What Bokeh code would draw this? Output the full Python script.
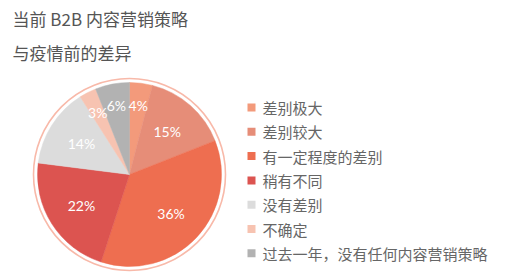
import math
from bokeh.plotting import figure
from bokeh.models import Range1d, ColumnDataSource
from bokeh.core.properties import value
from bokeh.embed import file_html
from bokeh.resources import INLINE

W, H = 512, 272

title_lines = ["当前 B2B 内容营销策略", "与疫情前的差异"]
categories = ["差别极大", "差别较大", "有一定程度的差别", "稍有不同", "没有差别", "不确定", "过去一年，没有任何内容营销策略"]
values = [4, 15, 36, 22, 14, 3, 6]
colors = ["#F39A7B", "#E68D78", "#EE6E50", "#DC5450", "#DCDCDC", "#F7C3B1", "#B2B2B2"]

CX, CY = 129, 174
R_FILL = 92
R_RING = 96

def Y(y):
    return H - y

p = figure(width=W, height=H, output_backend="svg", toolbar_location=None,
           x_range=Range1d(0, W), y_range=Range1d(0, H), min_border=0)
p.axis.visible = False
p.grid.visible = False
p.outline_line_color = None
p.background_fill_color = "white"
p.border_fill_color = "white"

total = sum(values)
starts, ends, lx, ly, labels = [], [], [], [], []
cum = 0.0
for v in values:
    a0 = math.pi / 2 - 2 * math.pi * cum / total
    a1 = math.pi / 2 - 2 * math.pi * (cum + v) / total
    starts.append(a0)
    ends.append(a1)
    mid = (a0 + a1) / 2
    r = 57 if v >= 10 else 70
    lx.append(CX + r * math.cos(mid))
    ly.append(Y(CY) + r * math.sin(mid))
    labels.append(f"{v}%")
    cum += v

src = ColumnDataSource(dict(start=starts, end=ends, color=colors, lx=lx, ly=ly, label=labels))

p.circle(x=[CX], y=[Y(CY)], radius=R_RING, fill_color=None, line_color="#F8B9A9", line_width=1.6)
p.wedge(x=CX, y=Y(CY), radius=R_FILL, start_angle="start", end_angle="end",
        direction="clock", fill_color="color", line_color="color", line_width=0.5, source=src)
p.text(x="lx", y="ly", text="label", source=src, text_color="white",
       text_font=value("Lato"), text_font_size="14px", text_font_style="normal",
       text_align="center", text_baseline="middle")

# title
p.text(x=[12, 12], y=[Y(18), Y(52)], text=title_lines, text_color="#555555",
       text_font=value("Noto Sans CJK SC"), text_font_size="17px",
       text_align="left", text_baseline="middle")

# legend
leg_y = [Y(107 + 24.3 * i) for i in range(len(categories))]
p.rect(x=[251] * len(categories), y=leg_y, width=8, height=8, fill_color=colors, line_color=None)
p.text(x=[262] * len(categories), y=leg_y, text=categories, text_color="#666666",
       text_font=value("Noto Sans CJK SC"), text_font_size="15px",
       text_align="left", text_baseline="middle")

open("out.html", "w").write(file_html(p, INLINE))
